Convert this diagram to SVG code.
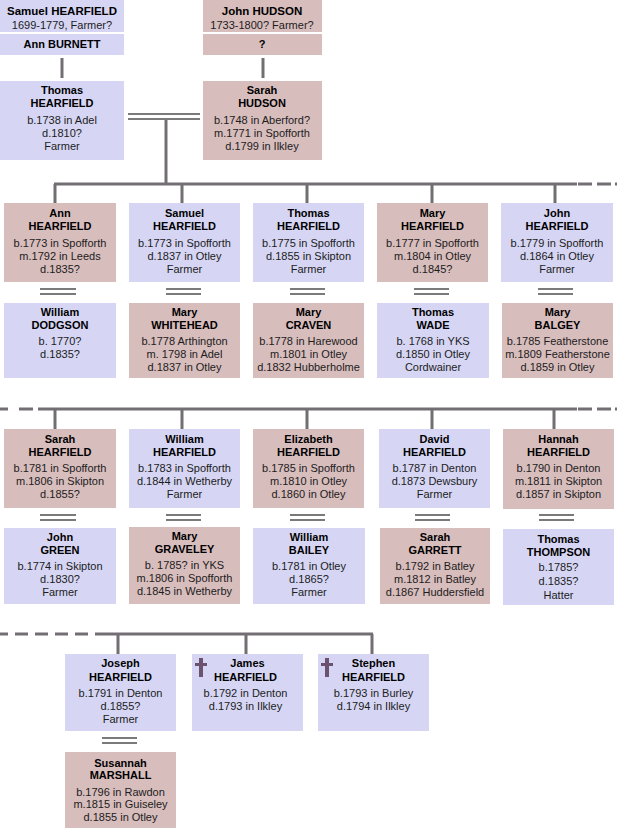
<svg xmlns="http://www.w3.org/2000/svg" width="617" height="828" viewBox="0 0 617 828">
<style>
.m{fill:#d6d6f4}
.f{fill:#d8bdbd}
.n{font-family:"Liberation Sans",Arial,sans-serif;font-weight:bold;font-size:11px;fill:#000;text-anchor:middle}
.d{font-family:"Liberation Sans",Arial,sans-serif;font-size:11px;fill:#1c1c1c;text-anchor:middle}
.c{stroke:#736e73;stroke-width:3;fill:none}
.w{stroke:#7a7a7a;stroke-width:2;fill:none}
.x{fill:#6b5370}
</style>
<rect width="617" height="828" fill="#fff"/>
<g id="connectors">
<line class="c" x1="62" y1="58" x2="62" y2="78"/>
<line class="c" x1="263" y1="58" x2="263" y2="78"/>
<path class="w" d="M128 114H200M128 119H200"/>
<line class="c" x1="166" y1="120" x2="166" y2="184"/>
<line class="c" x1="54" y1="184" x2="577" y2="184"/>
<path class="c" d="M578 184H592M597 184H611M615 184H617"/>
<path class="c" d="M55 184V203M182 184V203M307 184V203M432 184V203M555 184V203"/>
<path class="w" d="M40 289H76M40 294H76M166 289H201M166 294H201M290 289H325M290 294H325M414 289H449M414 294H449M538 289H573M538 294H573"/>
<path class="c" d="M0 409H8M19 409H33"/>
<line class="c" x1="38" y1="409" x2="577" y2="409"/>
<path class="c" d="M578 409H592M597 409H611M615 409H617"/>
<path class="c" d="M55 409V429M182 409V429M307 409V429M432 409V429M554 409V429"/>
<path class="w" d="M40 515H76M40 520H76M166 515H201M166 520H201M290 515H325M290 520H325M415 515H450M415 520H450M539 515H574M539 520H574"/>
<path class="c" d="M0 634H8M15 634H28M35 634H48M55 634H68M75 634H88"/>
<line class="c" x1="95" y1="634" x2="373" y2="634"/>
<path class="c" d="M118 634V654M246 634V654M372 634V654"/>
<path class="w" d="M102 738H137M102 743H137"/>
</g>

<g id="samuel-sr"><rect class="m" x="0" y="0" width="124" height="32"/><text class="n" x="62" y="15" style="font-size:11.5px">Samuel HEARFIELD</text><text class="d" x="62" y="29">1699-1779, Farmer?</text></g>
<g id="ann-burnett"><rect class="m" x="0" y="34" width="124" height="21"/><text class="n" x="62" y="48">Ann BURNETT</text></g>
<g id="john-hudson"><rect class="f" x="203" y="0" width="119" height="32"/><text class="n" x="262" y="15" style="font-size:11.5px">John HUDSON</text><text class="d" x="262" y="29">1733-1800? Farmer?</text></g>
<g id="unknown"><rect class="f" x="203" y="34" width="119" height="21"/><text class="n" x="262" y="48">?</text></g>

<g id="thomas-sr"><rect class="m" x="0" y="81" width="124" height="79"/><text class="n" x="62" y="94">Thomas</text><text class="n" x="62" y="107">HEARFIELD</text><text class="d" x="62" y="124">b.1738 in Adel</text><text class="d" x="62" y="137">d.1810?</text><text class="d" x="62" y="150">Farmer</text></g>
<g id="sarah-hudson"><rect class="f" x="203" y="81" width="119" height="79"/><text class="n" x="262" y="94">Sarah</text><text class="n" x="262" y="107">HUDSON</text><text class="d" x="262" y="124">b.1748 in Aberford?</text><text class="d" x="262" y="137">m.1771 in Spofforth</text><text class="d" x="262" y="150">d.1799 in Ilkley</text></g>

<g id="ann-h"><rect class="f" x="4" y="203" width="112" height="79"/><text class="n" x="60" y="217">Ann</text><text class="n" x="60" y="230">HEARFIELD</text><text class="d" x="60" y="247">b.1773 in Spofforth</text><text class="d" x="60" y="260">m.1792 in Leeds</text><text class="d" x="60" y="273">d.1835?</text></g>
<g id="samuel-h"><rect class="m" x="129" y="203" width="111" height="79"/><text class="n" x="184.5" y="217">Samuel</text><text class="n" x="184.5" y="230">HEARFIELD</text><text class="d" x="184.5" y="247">b.1773 in Spofforth</text><text class="d" x="184.5" y="260">d.1837 in Otley</text><text class="d" x="184.5" y="273">Farmer</text></g>
<g id="thomas-h"><rect class="m" x="253" y="203" width="111" height="79"/><text class="n" x="308.5" y="217">Thomas</text><text class="n" x="308.5" y="230">HEARFIELD</text><text class="d" x="308.5" y="247">b.1775 in Spofforth</text><text class="d" x="308.5" y="260">d.1855 in Skipton</text><text class="d" x="308.5" y="273">Farmer</text></g>
<g id="mary-h"><rect class="f" x="377" y="203" width="111" height="79"/><text class="n" x="432.5" y="217">Mary</text><text class="n" x="432.5" y="230">HEARFIELD</text><text class="d" x="432.5" y="247">b.1777 in Spofforth</text><text class="d" x="432.5" y="260">m.1804 in Otley</text><text class="d" x="432.5" y="273">d.1845?</text></g>
<g id="john-h"><rect class="m" x="501" y="203" width="112" height="79"/><text class="n" x="557" y="217">John</text><text class="n" x="557" y="230">HEARFIELD</text><text class="d" x="557" y="247">b.1779 in Spofforth</text><text class="d" x="557" y="260">d.1864 in Otley</text><text class="d" x="557" y="273">Farmer</text></g>

<g id="william-dodgson"><rect class="m" x="4" y="303" width="112" height="75"/><text class="n" x="60" y="316">William</text><text class="n" x="60" y="329">DODGSON</text><text class="d" x="60" y="345">b. 1770?</text><text class="d" x="60" y="358">d.1835?</text></g>
<g id="mary-whitehead"><rect class="f" x="129" y="303" width="111" height="75"/><text class="n" x="184.5" y="316">Mary</text><text class="n" x="184.5" y="329">WHITEHEAD</text><text class="d" x="184.5" y="345">b.1778 Arthington</text><text class="d" x="184.5" y="358">m. 1798 in Adel</text><text class="d" x="184.5" y="371">d.1837 in Otley</text></g>
<g id="mary-craven"><rect class="f" x="253" y="303" width="111" height="75"/><text class="n" x="308.5" y="316">Mary</text><text class="n" x="308.5" y="329">CRAVEN</text><text class="d" x="308.5" y="345">b.1778 in Harewood</text><text class="d" x="308.5" y="358">m.1801 in Otley</text><text class="d" x="308.5" y="371">d.1832 Hubberholme</text></g>
<g id="thomas-wade"><rect class="m" x="377" y="303" width="112" height="75"/><text class="n" x="433" y="316">Thomas</text><text class="n" x="433" y="329">WADE</text><text class="d" x="433" y="345">b. 1768 in YKS</text><text class="d" x="433" y="358">d.1850 in Otley</text><text class="d" x="433" y="371">Cordwainer</text></g>
<g id="mary-balgey"><rect class="f" x="502" y="303" width="111" height="75"/><text class="n" x="557.5" y="316">Mary</text><text class="n" x="557.5" y="329">BALGEY</text><text class="d" x="557.5" y="345">b.1785 Featherstone</text><text class="d" x="557.5" y="358">m.1809 Featherstone</text><text class="d" x="557.5" y="371">d.1859 in Otley</text></g>

<g id="sarah-h"><rect class="f" x="4" y="429" width="112" height="79"/><text class="n" x="60" y="443">Sarah</text><text class="n" x="60" y="456">HEARFIELD</text><text class="d" x="60" y="472">b.1781 in Spofforth</text><text class="d" x="60" y="485">m.1806 in Skipton</text><text class="d" x="60" y="498">d.1855?</text></g>
<g id="william-h"><rect class="m" x="129" y="429" width="111" height="79"/><text class="n" x="184.5" y="443">William</text><text class="n" x="184.5" y="456">HEARFIELD</text><text class="d" x="184.5" y="472">b.1783 in Spofforth</text><text class="d" x="184.5" y="485">d.1844 in Wetherby</text><text class="d" x="184.5" y="498">Farmer</text></g>
<g id="elizabeth-h"><rect class="f" x="253" y="429" width="111" height="79"/><text class="n" x="308.5" y="443">Elizabeth</text><text class="n" x="308.5" y="456">HEARFIELD</text><text class="d" x="308.5" y="472">b.1785 in Spofforth</text><text class="d" x="308.5" y="485">m.1810 in Otley</text><text class="d" x="308.5" y="498">d.1860 in Otley</text></g>
<g id="david-h"><rect class="m" x="379" y="429" width="111" height="79"/><text class="n" x="434.5" y="443">David</text><text class="n" x="434.5" y="456">HEARFIELD</text><text class="d" x="434.5" y="472">b.1787 in Denton</text><text class="d" x="434.5" y="485">d.1873 Dewsbury</text><text class="d" x="434.5" y="498">Farmer</text></g>
<g id="hannah-h"><rect class="f" x="503" y="429" width="111" height="80"/><text class="n" x="558.5" y="443">Hannah</text><text class="n" x="558.5" y="456">HEARFIELD</text><text class="d" x="558.5" y="472">b.1790 in Denton</text><text class="d" x="558.5" y="485">m.1811 in Skipton</text><text class="d" x="558.5" y="498">d.1857 in Skipton</text></g>

<g id="john-green"><rect class="m" x="4" y="528" width="112" height="76"/><text class="n" x="60" y="541">John</text><text class="n" x="60" y="554">GREEN</text><text class="d" x="60" y="570">b.1774 in Skipton</text><text class="d" x="60" y="583">d.1830?</text><text class="d" x="60" y="596">Farmer</text></g>
<g id="mary-graveley"><rect class="f" x="129" y="527" width="111" height="77"/><text class="n" x="184.5" y="540">Mary</text><text class="n" x="184.5" y="553">GRAVELEY</text><text class="d" x="184.5" y="569">b. 1785? in YKS</text><text class="d" x="184.5" y="582">m.1806 in Spofforth</text><text class="d" x="184.5" y="595">d.1845 in Wetherby</text></g>
<g id="william-bailey"><rect class="m" x="253" y="528" width="112" height="76"/><text class="n" x="309" y="541">William</text><text class="n" x="309" y="554">BAILEY</text><text class="d" x="309" y="570">b.1781 in Otley</text><text class="d" x="309" y="583">d.1865?</text><text class="d" x="309" y="596">Farmer</text></g>
<g id="sarah-garrett"><rect class="f" x="380" y="528" width="110" height="76"/><text class="n" x="435" y="541">Sarah</text><text class="n" x="435" y="554">GARRETT</text><text class="d" x="435" y="570">b.1792 in Batley</text><text class="d" x="435" y="583">m.1812 in Batley</text><text class="d" x="435" y="596">d.1867 Huddersfield</text></g>
<g id="thomas-thompson"><rect class="m" x="503" y="529" width="111" height="76"/><text class="n" x="558.5" y="543">Thomas</text><text class="n" x="558.5" y="556">THOMPSON</text><text class="d" x="558.5" y="571">b.1785?</text><text class="d" x="558.5" y="585">d.1835?</text><text class="d" x="558.5" y="599">Hatter</text></g>

<g id="joseph-h"><rect class="m" x="65" y="654" width="111" height="77"/><text class="n" x="120.5" y="667">Joseph</text><text class="n" x="120.5" y="681">HEARFIELD</text><text class="d" x="120.5" y="697">b.1791 in Denton</text><text class="d" x="120.5" y="710">d.1855?</text><text class="d" x="120.5" y="723">Farmer</text></g>
<g id="james-h"><rect class="m" x="192" y="654" width="111" height="77"/><rect class="x" x="199" y="658" width="4" height="19"/><rect class="x" x="195" y="663" width="12" height="3"/><text class="n" x="247.5" y="667">James</text><text class="n" x="245.5" y="681">HEARFIELD</text><text class="d" x="245.5" y="697">b.1792 in Denton</text><text class="d" x="245.5" y="710">d.1793 in Ilkley</text></g>
<g id="stephen-h"><rect class="m" x="318" y="654" width="111" height="77"/><rect class="x" x="325" y="658" width="4" height="19"/><rect class="x" x="321" y="663" width="12" height="3"/><text class="n" x="373.5" y="667">Stephen</text><text class="n" x="373.5" y="681">HEARFIELD</text><text class="d" x="373.5" y="697">b.1793 in Burley</text><text class="d" x="373.5" y="710">d.1794 in Ilkley</text></g>

<g id="susannah-marshall"><rect class="f" x="65" y="752" width="111" height="76"/><text class="n" x="120.5" y="767">Susannah</text><text class="n" x="120.5" y="779">MARSHALL</text><text class="d" x="120.5" y="796">b.1796 in Rawdon</text><text class="d" x="120.5" y="808">m.1815 in Guiseley</text><text class="d" x="120.5" y="821">d.1855 in Otley</text></g>
</svg>
